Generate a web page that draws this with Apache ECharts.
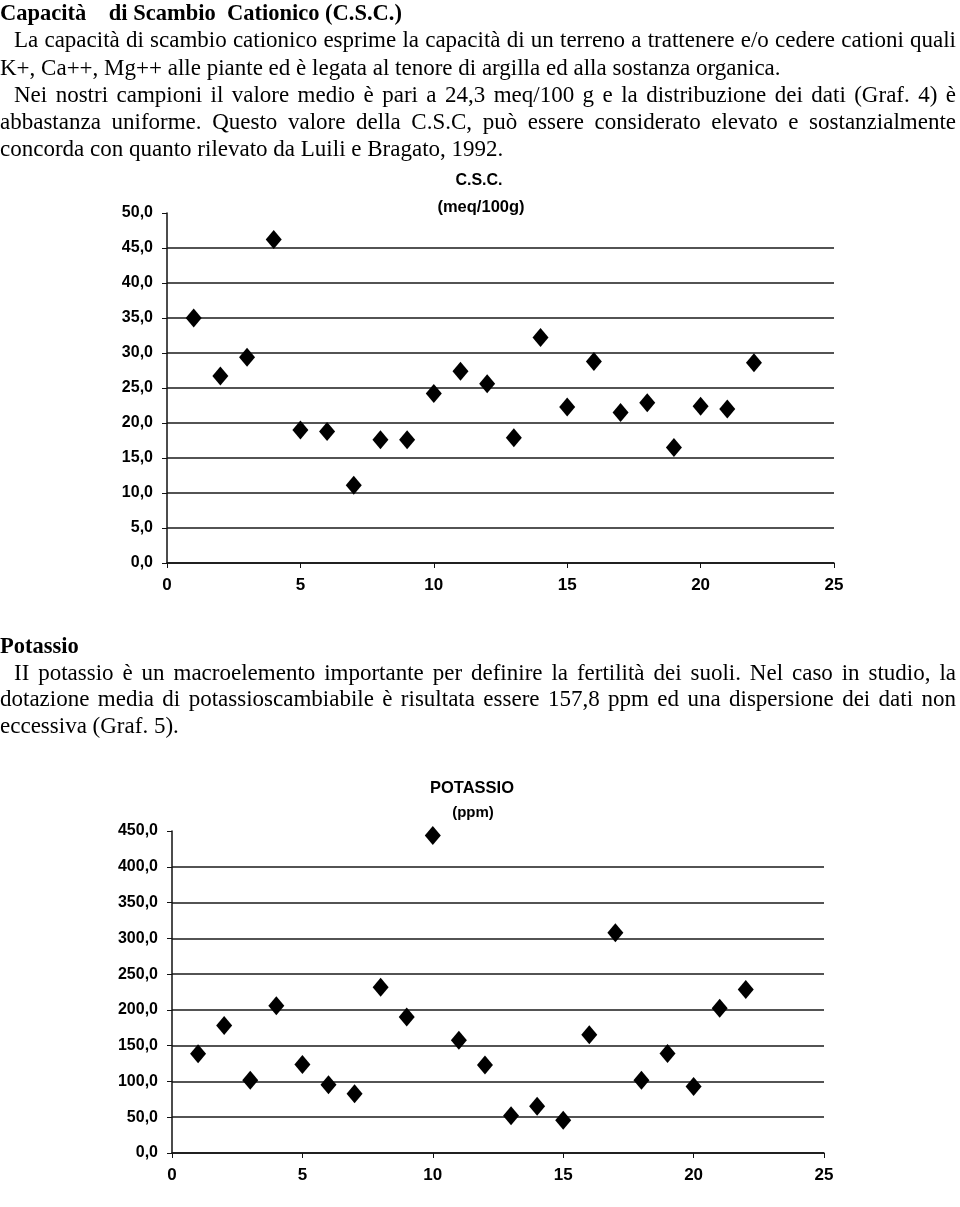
<!DOCTYPE html>
<html>
<head>
<meta charset="utf-8">
<script src="https://cdn.jsdelivr.net/npm/echarts@6/dist/echarts.min.js"></script>
<style>
  html, body { margin: 0; padding: 0; background: #fff; }
  #page { position: relative; width: 960px; height: 1207px; overflow: hidden; }
  #chart { position: absolute; left: 0; top: 0; width: 960px; height: 1207px; }
  .txt { position: absolute; left: 0; width: 956px; font-family: "Liberation Serif", "Times New Roman", serif; font-size: 23px; color: #000; }
  .ln { height: 27.3px; line-height: 27.3px; white-space: pre; }
  .j { text-align: justify; text-align-last: justify; white-space: normal; }
  .ind { padding-left: 14px; }
  .b { font-weight: bold; font-size: 22.5px; }
</style>
</head>
<body>
<div id="page">
  <div id="chart"></div>
  <div class="txt" style="top:-1px;">
    <div class="ln b">Capacità    di Scambio  Cationico (C.S.C.)</div>
    <div class="ln j ind">La capacità di scambio cationico esprime la capacità di un terreno a trattenere e/o cedere cationi quali</div>
    <div class="ln">K+, Ca++, Mg++ alle piante ed è legata al tenore di argilla ed alla sostanza organica.</div>
    <div class="ln j ind">Nei nostri campioni il valore medio è pari a 24,3 meq/100 g e la distribuzione dei dati (Graf. 4) è</div>
    <div class="ln j">abbastanza uniforme. Questo valore della C.S.C, può essere considerato elevato e sostanzialmente</div>
    <div class="ln">concorda con quanto rilevato da Luili e Bragato, 1992.</div>
  </div>
  <div class="txt" style="top:633px;">
    <div class="ln b" style="height:26.7px;line-height:26.7px;">Potassio</div>
    <div class="ln j ind" style="height:26.7px;line-height:26.7px;">II potassio è un macroelemento importante per definire la fertilità dei suoli. Nel caso in studio, la</div>
    <div class="ln j" style="height:26.7px;line-height:26.7px;">dotazione media di potassioscambiabile è risultata essere 157,8 ppm ed una dispersione dei dati non</div>
    <div class="ln" style="height:26.7px;line-height:26.7px;">eccessiva (Graf. 5).</div>
  </div>
</div>
<script>
// ---- data ----
const sampleIndex = [1, 2, 3, 4, 5, 6, 7, 8, 9, 10, 11, 12, 13, 14, 15, 16, 17, 18, 19, 20, 21, 22];
const cscValues = [35.0, 26.7, 29.4, 46.2, 19.0, 18.8, 11.1, 17.6, 17.6, 24.2, 27.4, 25.6, 17.9, 32.2, 22.3, 28.8, 21.5, 22.9, 16.5, 22.4, 22.0, 28.6];
const potassioValues = [138.8, 178.1, 101.8, 205.8, 123.6, 95.3, 82.8, 231.5, 190.2, 443.7, 157.4, 123.1, 52.0, 65.2, 45.8, 165.2, 307.8, 101.7, 139.1, 93.1, 202.2, 228.4];
const xTickLabels = ['0', '5', '10', '15', '20', '25'];
const cscTickLabels = ['0,0', '5,0', '10,0', '15,0', '20,0', '25,0', '30,0', '35,0', '40,0', '45,0', '50,0'];
const potassioTickLabels = ['0,0', '50,0', '100,0', '150,0', '200,0', '250,0', '300,0', '350,0', '400,0', '450,0'];
const cscTitle = ['C.S.C.', '(meq/100g)'];
const potassioTitle = ['POTASSIO', '(ppm)'];

const labelFont = '"Liberation Sans", Arial, sans-serif';
const ink = '#111';

function gridColors(n) {
  const arr = [];
  for (let i = 0; i < n; i++) arr.push(i === n - 1 ? 'rgba(0,0,0,0)' : '#1a1a1a');
  return arr;
}

function xAxisCfg(gi) {
  return {
    type: 'value', gridIndex: gi, min: 0, max: 25, interval: 5,
    axisLine: { show: true, onZero: false, lineStyle: { color: ink, width: 1.5 } },
    axisTick: { show: true, inside: false, length: 5, lineStyle: { color: ink, width: 1 } },
    splitLine: { show: false },
    axisLabel: {
      margin: 14, color: '#000', fontFamily: labelFont, fontWeight: 'bold', fontSize: 17,
      formatter: v => xTickLabels[Math.round(v / 5)]
    }
  };
}

function yAxisCfg(gi, max, step, labels) {
  return {
    type: 'value', gridIndex: gi, min: 0, max: max, interval: step,
    axisLine: { show: true, lineStyle: { color: ink, width: 1.5 } },
    axisTick: { show: true, inside: false, length: 5, lineStyle: { color: ink, width: 1 } },
    splitLine: { show: true, lineStyle: { color: gridColors(labels.length), width: 1.5 } },
    axisLabel: {
      margin: 14, color: '#000', fontFamily: labelFont, fontWeight: 'bold', fontSize: 16,
      formatter: v => labels[Math.round(v / step)]
    }
  };
}

const chart = echarts.init(document.getElementById('chart'), null, { renderer: 'canvas' });
chart.setOption({
  animation: false,
  backgroundColor: 'transparent',
  grid: [
    { left: 167, width: 667, top: 213, height: 350 },
    { left: 172, width: 652, top: 831, height: 322 }
  ],
  xAxis: [xAxisCfg(0), xAxisCfg(1)],
  yAxis: [yAxisCfg(0, 50, 5, cscTickLabels), yAxisCfg(1, 450, 50, potassioTickLabels)],
  graphic: [
    { type: 'text', x: 479, y: 181, style: { text: cscTitle[0], textAlign: 'center', textVerticalAlign: 'middle', font: 'bold 16px ' + labelFont, fill: '#000' } },
    { type: 'text', x: 481, y: 207, style: { text: cscTitle[1], textAlign: 'center', textVerticalAlign: 'middle', font: 'bold 16.5px ' + labelFont, fill: '#000' } },
    { type: 'text', x: 472, y: 788, style: { text: potassioTitle[0], textAlign: 'center', textVerticalAlign: 'middle', font: 'bold 16.5px ' + labelFont, fill: '#000' } },
    { type: 'text', x: 473, y: 813, style: { text: potassioTitle[1], textAlign: 'center', textVerticalAlign: 'middle', font: 'bold 15px ' + labelFont, fill: '#000' } }
  ],
  series: [
    {
      type: 'scatter', xAxisIndex: 0, yAxisIndex: 0,
      symbol: 'diamond', symbolSize: [16, 19],
      itemStyle: { color: '#000', opacity: 1 },
      data: sampleIndex.map((x, i) => [x, cscValues[i]])
    },
    {
      type: 'scatter', xAxisIndex: 1, yAxisIndex: 1,
      symbol: 'diamond', symbolSize: [16, 19],
      itemStyle: { color: '#000', opacity: 1 },
      data: sampleIndex.map((x, i) => [x, potassioValues[i]])
    }
  ]
});
</script>
</body>
</html>
